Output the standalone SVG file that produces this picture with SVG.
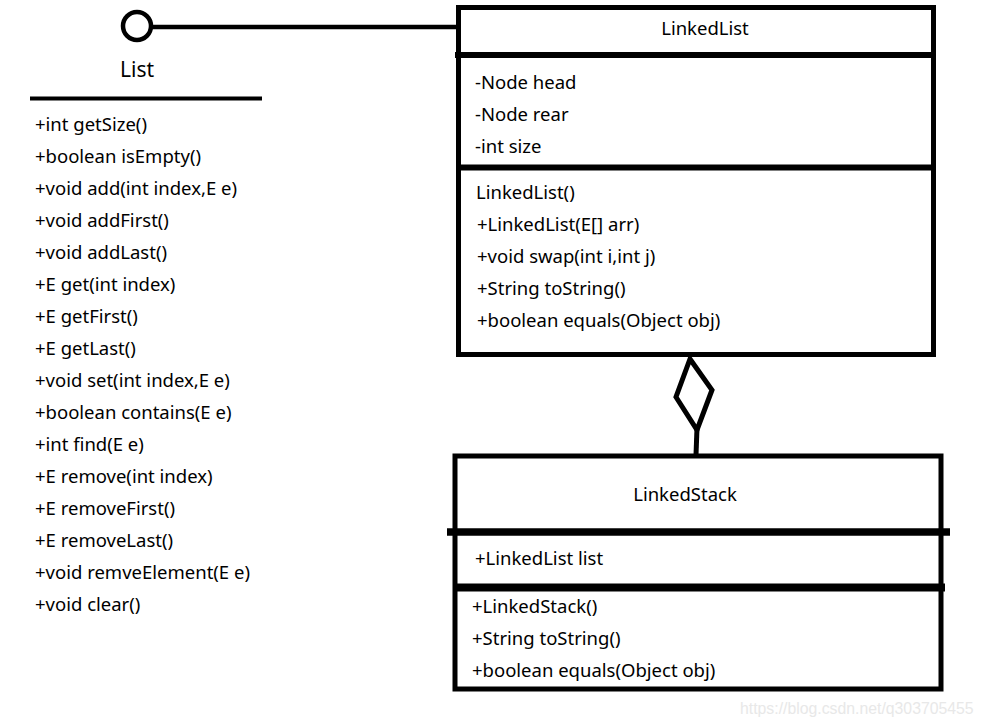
<svg xmlns="http://www.w3.org/2000/svg" width="984" height="727" viewBox="0 0 984 727">
<style>
.t{font-family:"Noto Sans","Open Sans","Liberation Sans",sans-serif;font-size:18.5px;fill:#000}
.c{text-anchor:middle}
.box{fill:#fff;stroke:#000;stroke-width:5}
.ln{stroke:#000;stroke-width:6;fill:none}
.wm{font-family:"Liberation Sans",Arial,sans-serif;font-size:15.8px;fill:#e8e8e8}
</style>
<rect width="984" height="727" fill="#fff"/>
<g id="connectors">
<line x1="152" y1="27" x2="459" y2="27" stroke="#000" stroke-width="4.5"/>
<polygon points="690,359 712,390 697,430 676,397" fill="#fff" stroke="#000" stroke-width="5" stroke-linejoin="miter"/>
<line x1="697" y1="428" x2="696" y2="455" stroke="#000" stroke-width="5"/>
</g>
<g id="List">
<circle cx="137" cy="26" r="14" fill="#fff" stroke="#000" stroke-width="4.5"/>
<text class="t" x="137" y="77" text-anchor="middle" style="font-size:21px">List</text>
<line x1="30" y1="98.5" x2="262" y2="98.5" stroke="#000" stroke-width="4"/>
<text class="t" x="35" y="131">+int getSize()</text>
<text class="t" x="35" y="163">+boolean isEmpty()</text>
<text class="t" x="35" y="195">+void add(int index,E e)</text>
<text class="t" x="35" y="227">+void addFirst()</text>
<text class="t" x="35" y="259">+void addLast()</text>
<text class="t" x="35" y="291">+E get(int index)</text>
<text class="t" x="35" y="323">+E getFirst()</text>
<text class="t" x="35" y="355">+E getLast()</text>
<text class="t" x="35" y="387">+void set(int index,E e)</text>
<text class="t" x="35" y="419">+boolean contains(E e)</text>
<text class="t" x="35" y="451">+int find(E e)</text>
<text class="t" x="35" y="483">+E remove(int index)</text>
<text class="t" x="35" y="515">+E removeFirst()</text>
<text class="t" x="35" y="547">+E removeLast()</text>
<text class="t" x="35" y="579">+void remveElement(E e)</text>
<text class="t" x="35" y="611">+void clear()</text>
</g>
<g id="LinkedList">
<rect class="box" x="458.5" y="7.5" width="475" height="347"/>
<line class="ln" x1="455" y1="55" x2="936" y2="55"/>
<line class="ln" x1="456" y1="167.5" x2="936" y2="167.5"/>
<text class="t c" x="705" y="35">LinkedList</text>
<text class="t" x="475" y="89">-Node head</text>
<text class="t" x="475" y="121">-Node rear</text>
<text class="t" x="475" y="153">-int size</text>
<text class="t" x="476" y="199">LinkedList()</text>
<text class="t" x="477" y="231">+LinkedList(E[] arr)</text>
<text class="t" x="477" y="263">+void swap(int i,int j)</text>
<text class="t" x="477" y="295">+String toString()</text>
<text class="t" x="477" y="327">+boolean equals(Object obj)</text>
</g>
<g id="LinkedStack">
<rect class="box" x="455" y="456" width="486" height="233"/>
<line x1="447" y1="532" x2="950" y2="532" stroke="#000" stroke-width="7.5"/>
<line x1="453" y1="587.5" x2="945" y2="587.5" stroke="#000" stroke-width="8"/>
<text class="t c" x="685" y="501">LinkedStack</text>
<text class="t" x="475" y="565">+LinkedList list</text>
<text class="t" x="472" y="613">+LinkedStack()</text>
<text class="t" x="472" y="645">+String toString()</text>
<text class="t" x="472" y="677">+boolean equals(Object obj)</text>
</g>
<text class="wm" x="740" y="714">https://blog.csdn.net/q303705455</text>
</svg>
